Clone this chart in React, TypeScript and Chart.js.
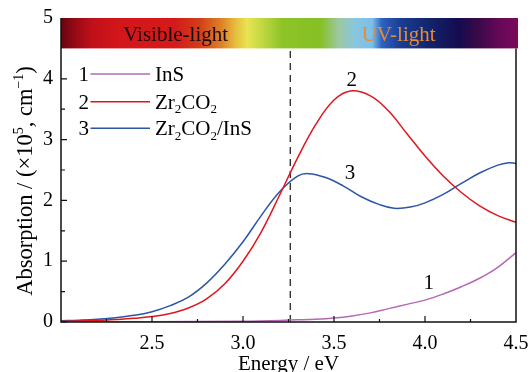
import React, { useEffect, useRef } from "react";
import { Chart, registerables } from "chart.js";

Chart.register(...registerables);

// ---------- data ----------
const energyInS = [2.0, 2.5, 3.0, 3.3, 3.4, 3.5, 3.6, 3.7, 3.8, 3.9, 4.0, 4.1, 4.2, 4.3, 4.4, 4.5];
const absInS = [0.0, 0.005, 0.012, 0.035, 0.045, 0.065, 0.1, 0.15, 0.22, 0.29, 0.36, 0.46, 0.58, 0.72, 0.9, 1.14];

const energyZr = [2.0, 2.1, 2.2, 2.3, 2.4, 2.5, 2.6, 2.7, 2.8, 2.9, 3.0, 3.1, 3.2, 3.3, 3.4, 3.5, 3.59, 3.7, 3.8, 3.9, 4.0, 4.1, 4.2, 4.3, 4.4, 4.5];
const absZr = [0.01, 0.015, 0.025, 0.04, 0.06, 0.09, 0.14, 0.23, 0.38, 0.63, 1.0, 1.48, 2.08, 2.7, 3.25, 3.65, 3.8, 3.72, 3.47, 3.1, 2.73, 2.4, 2.13, 1.91, 1.75, 1.64];

const energyHet = [2.0, 2.1, 2.2, 2.3, 2.4, 2.5, 2.6, 2.7, 2.8, 2.9, 3.0, 3.1, 3.2, 3.3, 3.36, 3.45, 3.55, 3.65, 3.75, 3.83, 3.92, 4.0, 4.1, 4.2, 4.3, 4.4, 4.46, 4.5];
const absHet = [0.02, 0.03, 0.045, 0.07, 0.11, 0.17, 0.27, 0.41, 0.64, 0.95, 1.32, 1.75, 2.14, 2.4, 2.44, 2.38, 2.24, 2.06, 1.93, 1.87, 1.89, 1.96, 2.1, 2.28, 2.45, 2.58, 2.62, 2.61];

const seriesNumbers = ["1", "2", "3"];
const labelEnergy = [4.02, 3.597, 3.588];
const labelAbs = [0.64, 3.98, 2.44];

const visibleEdge = 3.26; // eV
const bandLabels = ["Visible-light", "UV-light"];
const bandLabelEnergy = [2.63, 3.855];

const xMin = 2.0;
const xMax = 4.5;
const yMin = 0;
const yMax = 5;
const barBottom = 4.5;

// ---------- styles ----------
const SERIF = '"Liberation Serif", "Times New Roman", serif';
const colInS = "#b569b5";
const colZr = "#e2151d";
const colHet = "#2b55a6";

const gradientStops: [number, string][] = [
  [0, "#650510"],
  [0.03, "#960a16"],
  [0.068, "#c0101a"],
  [0.13, "#d3161b"],
  [0.25, "#d41a1a"],
  [0.305, "#d23e19"],
  [0.354, "#de8428"],
  [0.385, "#e6c040"],
  [0.41, "#e8e452"],
  [0.442, "#c0d842"],
  [0.486, "#8ec428"],
  [0.57, "#86c024"],
  [0.61, "#9cc8a0"],
  [0.646, "#88c6e0"],
  [0.684, "#7cbfe8"],
  [0.705, "#2e62c0"],
  [0.745, "#1a3e94"],
  [0.81, "#12246c"],
  [0.873, "#140c50"],
  [0.916, "#3a0848"],
  [0.965, "#680858"],
  [1, "#780a5a"],
];

type Part = [string, "n" | "sub" | "sup"];

function richWidth(ctx: CanvasRenderingContext2D, parts: Part[], size: number) {
  let w = 0;
  for (const [t, k] of parts) {
    ctx.font = `${k === "n" ? size : Math.round(size * 0.62)}px ${SERIF}`;
    w += ctx.measureText(t).width;
  }
  return w;
}

function drawRich(ctx: CanvasRenderingContext2D, parts: Part[], x: number, y: number, size: number) {
  let cx = x;
  ctx.textBaseline = "alphabetic";
  ctx.textAlign = "left";
  for (const [t, k] of parts) {
    const s = k === "n" ? size : Math.round(size * 0.62);
    ctx.font = `${s}px ${SERIF}`;
    const dy = k === "sub" ? size * 0.22 : k === "sup" ? -size * 0.4 : 0;
    ctx.fillText(t, cx, y + dy);
    cx += ctx.measureText(t).width;
  }
  return cx - x;
}

const decorPlugin = {
  id: "decor",
  beforeDatasetsDraw(chart: any) {
    const { ctx, scales } = chart;
    const xs = scales.x;
    const ys = scales.y;
    const px = xs.getPixelForValue(visibleEdge);
    ctx.save();
    ctx.strokeStyle = "#333";
    ctx.lineWidth = 1.4;
    ctx.setLineDash([7, 5]);
    ctx.beginPath();
    ctx.moveTo(px, ys.getPixelForValue(yMin));
    ctx.lineTo(px, ys.getPixelForValue(barBottom));
    ctx.stroke();
    ctx.restore();
  },
  afterDatasetsDraw(chart: any) {
    const { ctx, scales, chartArea } = chart;
    const xs = scales.x;
    const ys = scales.y;
    const { left, right, top, bottom } = chartArea;
    ctx.save();

    // colour bar
    const barB = ys.getPixelForValue(barBottom);
    const g = ctx.createLinearGradient(left, 0, right, 0);
    for (const [o, c] of gradientStops) g.addColorStop(o, c);
    ctx.fillStyle = g;
    ctx.fillRect(left, top, right - left + 2, barB - top);

    ctx.font = `21px ${SERIF}`;
    ctx.textAlign = "center";
    ctx.textBaseline = "alphabetic";
    const midY = ys.getPixelForValue((barBottom + yMax) / 2) + 8;
    ctx.fillStyle = "#1a0606";
    ctx.fillText(bandLabels[0], xs.getPixelForValue(bandLabelEnergy[0]), midY);
    ctx.fillStyle = "#ec8a32";
    ctx.fillText(bandLabels[1], xs.getPixelForValue(bandLabelEnergy[1]), midY);

    // frame
    ctx.strokeStyle = "#111";
    ctx.lineWidth = 1.5;
    ctx.beginPath();
    ctx.moveTo(left, top);
    ctx.lineTo(left, bottom);
    ctx.lineTo(right, bottom);
    ctx.lineTo(right, barB);
    ctx.stroke();

    // inner ticks
    ctx.lineWidth = 1.2;
    ctx.beginPath();
    for (let v = 0; v <= barBottom - 0.5 + 1e-6; v += 0.5) {
      const y = ys.getPixelForValue(v);
      const major = Math.abs(v - Math.round(v)) < 1e-6;
      ctx.moveTo(left, y);
      ctx.lineTo(left + (major ? 6 : 4), y);
    }
    for (let e = xMin + 0.25; e < xMax - 1e-6; e += 0.25) {
      const x = xs.getPixelForValue(e);
      const major = Math.abs(e * 2 - Math.round(e * 2)) < 1e-6;
      ctx.moveTo(x, bottom);
      ctx.lineTo(x, bottom - (major ? 6 : 3));
    }
    ctx.stroke();

    // legend
    const rows: { parts: Part[]; color: string }[] = [
      { parts: [["InS", "n"]], color: colInS },
      { parts: [["Zr", "n"], ["2", "sub"], ["CO", "n"], ["2", "sub"]], color: colZr },
      { parts: [["Zr", "n"], ["2", "sub"], ["CO", "n"], ["2", "sub"], ["/InS", "n"]], color: colHet },
    ];
    const rowY = [top + 56, top + 83.7, top + 110.3];
    rows.forEach((r, i) => {
      const cy = rowY[i];
      ctx.font = `21px ${SERIF}`;
      ctx.fillStyle = "#000";
      ctx.textAlign = "right";
      ctx.textBaseline = "alphabetic";
      ctx.fillText(seriesNumbers[i], left + 28, cy + 7);
      ctx.strokeStyle = r.color;
      ctx.lineWidth = 1.5;
      ctx.beginPath();
      ctx.moveTo(left + 29.5, cy);
      ctx.lineTo(left + 89, cy);
      ctx.stroke();
      ctx.fillStyle = "#000";
      drawRich(ctx, r.parts, left + 94, cy + 7, 21);
    });

    // curve number labels
    ctx.font = `21px ${SERIF}`;
    ctx.fillStyle = "#000";
    ctx.textAlign = "center";
    ctx.textBaseline = "middle";
    seriesNumbers.forEach((n, i) => {
      ctx.fillText(n, xs.getPixelForValue(labelEnergy[i]), ys.getPixelForValue(labelAbs[i]));
    });

    // axis titles
    ctx.fillStyle = "#000";
    ctx.font = `21px ${SERIF}`;
    ctx.textAlign = "center";
    ctx.textBaseline = "alphabetic";
    ctx.fillText("Energy / eV", (left + right) / 2, chart.height - 2);

    const tParts: Part[] = [
      ["Absorption / (\u00d710", "n"],
      ["5", "sup"],
      [", cm", "n"],
      ["\u22121", "sup"],
      [")", "n"],
    ];
    const tSize = 22.5;
    const tw = richWidth(ctx, tParts, tSize);
    ctx.translate(32, 181);
    ctx.rotate(-Math.PI / 2);
    drawRich(ctx, tParts, -tw / 2, 0, tSize);
    ctx.restore();
  },
};

export default function App() {
  const ref = useRef<HTMLCanvasElement | null>(null);
  useEffect(() => {
    document.body.style.margin = "0";
    const canvas = ref.current!;
    const mk = (xs: number[], ys: number[]) => xs.map((x, i) => ({ x, y: ys[i] }));
    const common = { borderWidth: 1.5, pointRadius: 0, tension: 0.4, fill: false };
    const chart = new Chart(canvas, {
      type: "line",
      data: {
        datasets: [
          { label: "InS", data: mk(energyInS, absInS), borderColor: colInS, ...common },
          { label: "Zr2CO2", data: mk(energyZr, absZr), borderColor: colZr, ...common },
          { label: "Zr2CO2/InS", data: mk(energyHet, absHet), borderColor: colHet, ...common },
        ],
      },
      options: {
        responsive: false,
        animation: false,
        devicePixelRatio: 1,
        layout: { padding: { top: 18, right: 15, left: 0, bottom: 0 } },
        plugins: { legend: { display: false }, tooltip: { enabled: false } },
        scales: {
          x: {
            type: "linear",
            min: xMin,
            max: xMax,
            grid: { display: false, drawTicks: false },
            border: { display: false },
            ticks: {
              stepSize: 0.5,
              autoSkip: false,
              maxRotation: 0,
              padding: 10,
              color: "#000",
              font: { family: SERIF, size: 20 },
              callback: (v: any) => (Math.abs(Number(v) - xMin) < 1e-6 ? "" : Number(v).toFixed(1)),
            },
            afterFit: (s: any) => {
              s.height = 50;
              s.paddingLeft = 0;
              s.paddingRight = 0;
            },
          },
          y: {
            min: yMin,
            max: yMax,
            grid: { display: false, drawTicks: false },
            border: { display: false },
            ticks: {
              stepSize: 1,
              padding: 8,
              color: "#000",
              font: { family: SERIF, size: 20 },
              callback: (v: any) => String(v),
            },
            afterFit: (s: any) => {
              s.width = 61;
              s.paddingTop = 0;
              s.paddingBottom = 0;
            },
          },
        },
      },
      plugins: [decorPlugin],
    } as any);
    return () => chart.destroy();
  }, []);
  return (
    <div style={{ position: "fixed", left: 0, top: 0, width: 531, height: 372, background: "#fff" }}>
      <canvas ref={ref} width={531} height={372} />
    </div>
  );
}
